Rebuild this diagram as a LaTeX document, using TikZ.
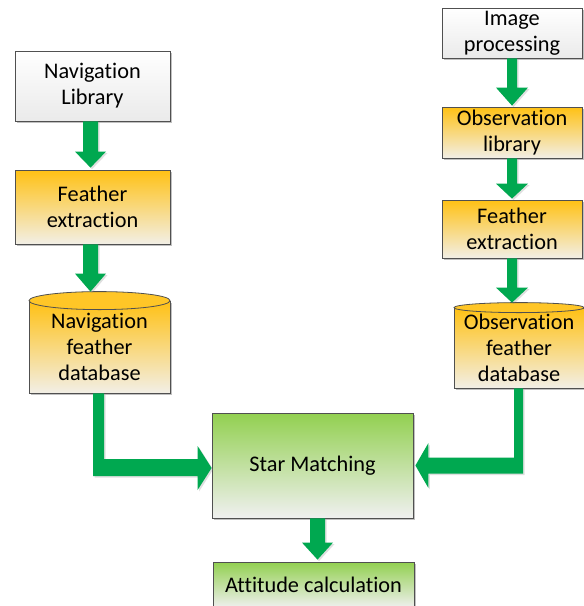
\documentclass[tikz,border=0pt]{standalone}
\usepackage{fontspec}
\setmainfont[Ligatures=NoCommon]{Carlito}
\usetikzlibrary{calc,shadows}
\definecolor{arrowgreen}{RGB}{0,168,80}
\definecolor{bordergray}{RGB}{80,80,80}
\definecolor{orangetop}{RGB}{255,193,20}
\definecolor{orangebot}{RGB}{242,239,230}
\definecolor{greentop}{RGB}{146,208,80}
\definecolor{greenbot}{RGB}{240,240,240}
\definecolor{whitetop}{RGB}{255,255,255}
\definecolor{whitebot}{RGB}{234,234,234}
\tikzset{
  boxbase/.style={draw=bordergray, line width=0.8pt, align=center, inner sep=0pt,
    drop shadow={shadow xshift=2pt, shadow yshift=-2pt, opacity=0.45, fill=black!55}},
  whitebox/.style={boxbase, top color=whitetop, bottom color=whitebot},
  orangebox/.style={boxbase, top color=orangetop, bottom color=orangebot},
  greenbox/.style={boxbase, top color=greentop, bottom color=greenbot},
  cyltopstyle/.style={draw=bordergray, line width=0.8pt, fill=orangetop!92!white},
  blockarrow/.style={fill=arrowgreen, drop shadow={shadow xshift=1.5pt, shadow yshift=-1.5pt, opacity=0.25, fill=black!50}},
}
% vertical block arrow: [dx]{from}{to}{half shaft}{half head}{head length}
\newcommand\vblockarrow[6][0]{%
  \coordinate (vbaend) at (#2 |- #3);
  \path[blockarrow] ($(#2)+(#1-#4,0)$) -- ($(#2)+(#1+#4,0)$)
    -- ($(vbaend)+(#1+#4,-#6)$) -- ($(vbaend)+(#1+#5,-#6)$) -- ($(vbaend)+(#1,0)$)
    -- ($(vbaend)+(#1-#5,-#6)$) -- ($(vbaend)+(#1-#4,-#6)$) -- cycle;}
\begin{document}
\begin{tikzpicture}[x=1pt,y=-1pt,font=\fontsize{22.3}{26}\selectfont]
\useasboundingbox (0,0) rectangle (584,606);
% left column
\node[whitebox, minimum width=155pt, minimum height=70pt] (navlib) at (92.5,86) {Navigation\\Library};
\node[orangebox, minimum width=155pt, minimum height=74pt] (featl) at (92.5,207) {Feather\\extraction};
\node[orangebox, minimum width=141pt, minimum height=92pt] (navdb) at (99.5,347) {Navigation\\feather\\database};
\draw[cyltopstyle] (navdb.north) ellipse [x radius=70.5pt, y radius=9pt];
\coordinate (navdbtop) at ($(navdb.north)+(0,-9)$);
% right column
\node[whitebox, minimum width=140pt, minimum height=50pt] (imgproc) at (512,33) {Image\\processing};
\node[orangebox, minimum width=140pt, minimum height=51pt] (obslib) at (512,132.5) {Observation\\library};
\node[orangebox, minimum width=140pt, minimum height=58pt] (featr) at (512,229) {Feather\\extraction};
\node[orangebox, minimum width=130pt, minimum height=80pt] (obsdb) at (519,348) {Observation\\feather\\database};
\draw[cyltopstyle] (obsdb.north) ellipse [x radius=65pt, y radius=5pt];
\coordinate (obsdbtop) at ($(obsdb.north)+(0,-5)$);
% center
\node[greenbox, minimum width=201pt, minimum height=105pt] (star) at (312.5,465.5) {Star Matching};
\node[greenbox, minimum width=201pt, minimum height=46pt] (att) at (313.5,585) {Attitude calculation};
% vertical arrows
\coordinate (featltop) at ($(featl.north)+(0,-2)$);
\vblockarrow[-2]{navlib.south}{featltop}{7.5}{15.5}{16}
\vblockarrow[-2]{featl.south}{navdbtop}{7.5}{15.5}{18}
\coordinate (obslibtop) at ($(obslib.north)+(0,-1)$);
\coordinate (featrtop) at ($(featr.north)+(0,-1)$);
\vblockarrow{imgproc.south}{obslibtop}{5}{16}{18}
\vblockarrow{obslib.south}{featrtop}{5}{16}{15}
\vblockarrow{featr.south}{obsdbtop}{5}{16}{15}
\coordinate (atttop) at ($(att.north)+(0,-2)$);
\vblockarrow[5]{star.south}{atttop}{7.5}{15.5}{17}
% left elbow arrow
\coordinate (la) at ($(navdb.south)+(-6.5,0)$);
\coordinate (lb) at ($(navdb.south)+(4.5,0)$);
\coordinate (ltip) at ($(star.west)+(0,2.5)$);
\coordinate (ld) at ($(ltip)+(-14,-9)$);
\coordinate (lh) at ($(ltip)+(-14,8)$);
\path[blockarrow] (la) -- (lb) -- (lb |- ld) -- (ld) -- ($(ltip)+(-14,-22)$) -- (ltip)
  -- ($(ltip)+(-14,22)$) -- (lh) -- (la |- lh) -- cycle;
% right elbow arrow
\coordinate (ra) at ($(obsdb.south)+(-5,0)$);
\coordinate (rb) at ($(obsdb.south)+(4,0)$);
\coordinate (rtip) at ($(star.east)+(2,0)$);
\coordinate (rd) at ($(rtip)+(13,-8)$);
\coordinate (rh) at ($(rtip)+(13,8)$);
\path[blockarrow] (ra) -- (rb) -- (rb |- rh) -- (rh) -- ($(rtip)+(13,22.5)$) -- (rtip)
  -- ($(rtip)+(13,-22.5)$) -- (rd) -- (ra |- rd) -- cycle;
\end{tikzpicture}
\end{document}
